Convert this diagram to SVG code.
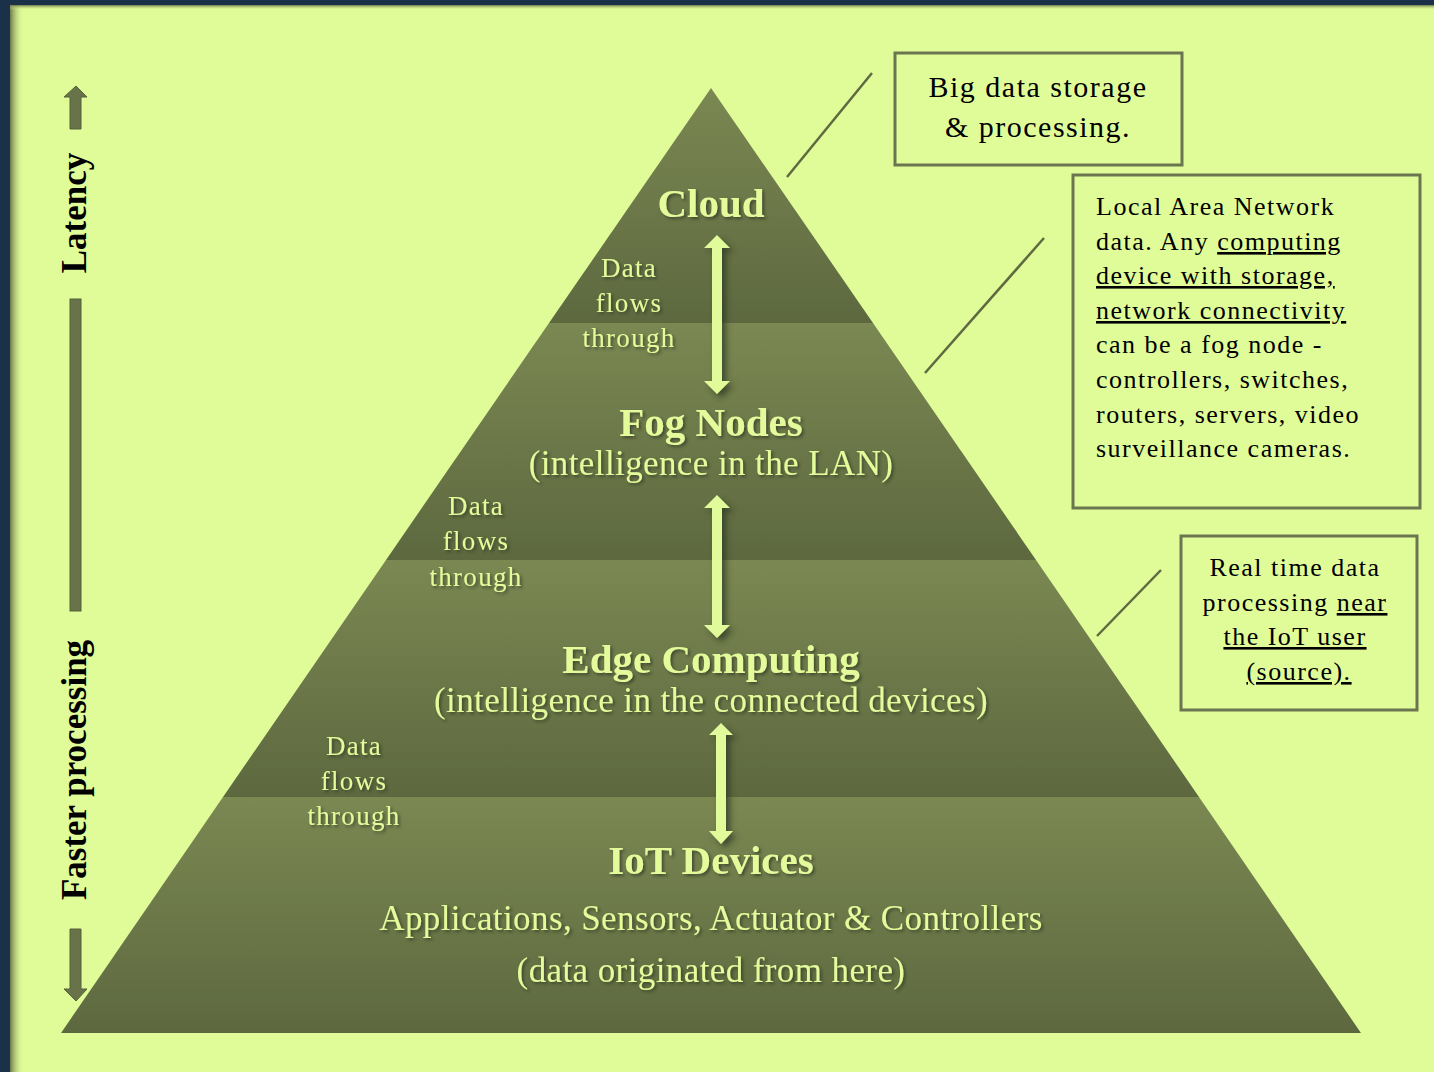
<svg xmlns="http://www.w3.org/2000/svg" width="1434" height="1072" viewBox="0 0 1434 1072">
<defs>
<linearGradient id="band" x1="0" y1="0" x2="0" y2="1">
<stop offset="0" stop-color="#7b8852"/>
<stop offset="1" stop-color="#5d683f"/>
</linearGradient>
<linearGradient id="lshadow" x1="0" y1="0" x2="1" y2="0">
<stop offset="0" stop-color="#6d7848"/>
<stop offset="1" stop-color="#e0fc98" stop-opacity="0"/>
</linearGradient>
<linearGradient id="tshadow" x1="0" y1="0" x2="0" y2="1">
<stop offset="0" stop-color="#6d7848"/>
<stop offset="1" stop-color="#e0fc98" stop-opacity="0"/>
</linearGradient>
<filter id="tsh" x="-10%" y="-20%" width="120%" height="150%">
<feDropShadow dx="2" dy="2" stdDeviation="1.5" flood-color="#2e3520" flood-opacity="0.7"/>
</filter>
<filter id="ash" x="-100%" y="-10%" width="300%" height="120%">
<feDropShadow dx="4" dy="4" stdDeviation="3" flood-color="#2e3520" flood-opacity="0.75"/>
</filter>
<style>
.title{font-family:"Liberation Serif",serif;font-weight:bold;font-size:41px;fill:#e4fb9c;text-anchor:middle}
.sub{font-family:"Liberation Serif",serif;font-size:35px;fill:#e4fb9c;text-anchor:middle;letter-spacing:0.4px}
.flow{font-family:"Liberation Serif",serif;font-size:27px;fill:#e4fb9c;text-anchor:middle;letter-spacing:1.3px}
.note{font-family:"Liberation Serif",serif;font-size:26px;fill:#000;letter-spacing:1.5px}
.big{font-family:"Liberation Serif",serif;font-size:30px;fill:#000;letter-spacing:1.5px;text-anchor:middle}
.side{font-family:"Liberation Serif",serif;font-weight:bold;font-size:35px;fill:#000;text-anchor:middle}
.box{fill:none;stroke:#6b7550;stroke-width:3}
.call{stroke:#5f6a40;stroke-width:2.5;fill:none}
.darr{fill:#e2fb9a}
.sarr{fill:#68734a;stroke:#56603a;stroke-width:1}
.u{text-decoration:underline}
</style>
</defs>

<rect x="0" y="0" width="1434" height="1072" fill="#1b3049"/>
<rect x="10" y="5" width="1424" height="1067" fill="#e0fc98"/>
<rect x="10" y="5" width="14" height="1067" fill="url(#lshadow)"/>
<rect x="10" y="5" width="1424" height="5" fill="url(#tshadow)"/>

<g id="pyramid">
<g id="cloud">
<polygon points="711,88 873,323 549,323" fill="url(#band)"/>
<text class="title" x="711" y="217" filter="url(#tsh)">Cloud</text>
</g>
<g id="fog">
<polygon points="549,323 873,323 1036,560 386,560" fill="url(#band)"/>
<text class="title" x="711" y="436" filter="url(#tsh)">Fog Nodes</text>
<text class="sub" x="711" y="475" filter="url(#tsh)">(intelligence in the LAN)</text>
</g>
<g id="edge">
<polygon points="386,560 1036,560 1199,797 223,797" fill="url(#band)"/>
<text class="title" x="711" y="673" filter="url(#tsh)">Edge Computing</text>
<text class="sub" x="711" y="712" filter="url(#tsh)">(intelligence in the connected devices)</text>
</g>
<g id="iot">
<polygon points="223,797 1199,797 1361,1033 61,1033" fill="url(#band)"/>
<text class="title" x="711" y="874" filter="url(#tsh)">IoT Devices</text>
<text class="sub" x="711" y="930" filter="url(#tsh)">Applications, Sensors, Actuator &amp; Controllers</text>
<text class="sub" x="711" y="982" filter="url(#tsh)">(data originated from here)</text>
</g>
</g>

<g id="connectors">
<polygon class="darr" filter="url(#ash)" points="717,235 730,248 722,248 722,381 730,381 717,394 704,381 712,381 712,248 704,248"/>
<polygon class="darr" filter="url(#ash)" points="717,495 730,508 722,508 722,625 730,625 717,638 704,625 712,625 712,508 704,508"/>
<polygon class="darr" filter="url(#ash)" points="721,723 733,735 726,735 726,831 733,831 721,844 709,831 716,831 716,735 709,735"/>
<line class="call" x1="787" y1="177" x2="872" y2="73"/>
<line class="call" x1="925" y1="373" x2="1044" y2="238"/>
<line class="call" x1="1097" y1="636" x2="1161" y2="570"/>
</g>

<g id="flow-labels">
<text class="flow" filter="url(#tsh)"><tspan x="629" y="277">Data</tspan><tspan x="629" y="312">flows</tspan><tspan x="629" y="347">through</tspan></text>
<text class="flow" filter="url(#tsh)"><tspan x="476" y="515">Data</tspan><tspan x="476" y="550">flows</tspan><tspan x="476" y="586">through</tspan></text>
<text class="flow" filter="url(#tsh)"><tspan x="354" y="755">Data</tspan><tspan x="354" y="790">flows</tspan><tspan x="354" y="825">through</tspan></text>
</g>

<g id="axis">
<polygon class="sarr" points="76,86 87,97 81,97 81,129 70,129 70,97 64,97"/>
<text class="side" transform="translate(86,213) rotate(-90)">Latency</text>
<rect x="70" y="299" width="11" height="312" fill="#68734a" stroke="#56603a" stroke-width="1"/>
<text class="side" transform="translate(86,770) rotate(-90)">Faster processing</text>
<polygon class="sarr" points="70,929 81,929 81,989 87,989 76,1001 64,989 70,989"/>
</g>

<g id="note-cloud">
<rect class="box" x="895" y="53" width="287" height="112"/>
<text class="big"><tspan x="1038" y="97">Big data storage</tspan><tspan x="1038" y="137">&amp; processing.</tspan></text>
</g>

<g id="note-fog">
<rect class="box" x="1073" y="175" width="347" height="333"/>
<text class="note">
<tspan x="1096" y="215">Local Area Network</tspan>
<tspan x="1096" y="250">data. Any <tspan class="u">computing</tspan></tspan>
<tspan x="1096" y="284" class="u">device with storage,</tspan>
<tspan x="1096" y="319" class="u">network connectivity</tspan>
<tspan x="1096" y="353">can be a fog node -</tspan>
<tspan x="1096" y="388">controllers, switches,</tspan>
<tspan x="1096" y="423">routers, servers, video</tspan>
<tspan x="1096" y="457">surveillance cameras.</tspan>
</text>
</g>

<g id="note-edge">
<rect class="box" x="1181" y="536" width="236" height="174"/>
<text class="note" text-anchor="middle">
<tspan x="1299" y="576">Real time data</tspan>
<tspan x="1299" y="611">processing <tspan class="u">near</tspan></tspan>
<tspan x="1299" y="645" class="u">the IoT user</tspan>
<tspan x="1299" y="680" class="u">(source).</tspan>
</text>
</g>
</svg>
